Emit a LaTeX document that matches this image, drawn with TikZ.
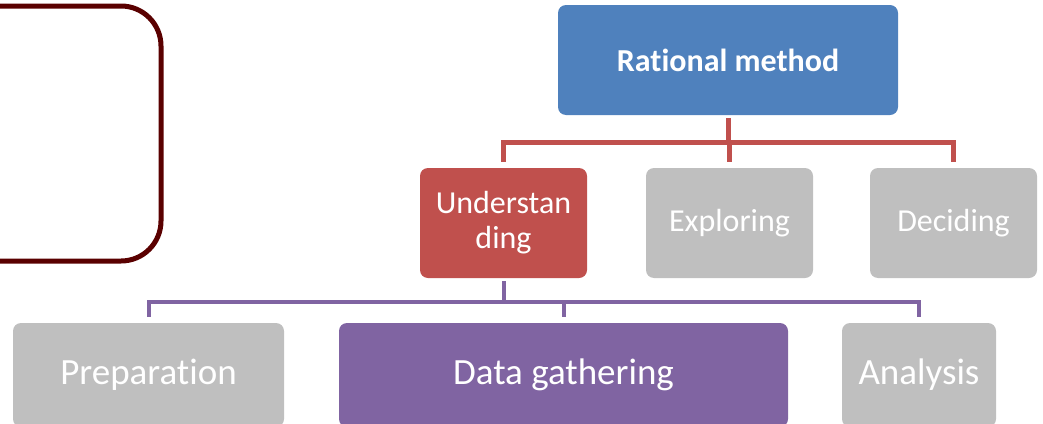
\documentclass[tikz,border=0pt]{standalone}
\usepackage{fontspec}
\setmainfont{Carlito}[Ligatures=NoCommon]
\usetikzlibrary{arrows}
\definecolor{blu}{RGB}{79,129,189}
\definecolor{rd}{RGB}{192,80,77}
\definecolor{prp}{RGB}{128,100,162}
\definecolor{gry}{RGB}{191,191,191}
\definecolor{maroon}{RGB}{90,0,0}
\begin{document}
\begin{tikzpicture}[x=1pt,y=-1pt]
\tikzstyle{every node}=[rectangle, rounded corners=8pt, inner sep=0pt, text=white, align=center]
\tikzstyle{lvlone}=[minimum width=167pt, minimum height=110pt, font=\fontsize{32}{35}\selectfont]
\tikzstyle{lvltwo}=[minimum height=104pt, font=\fontsize{37}{40}\selectfont]
\tikzstyle{redline}=[line width=5pt, draw=rd]
\tikzstyle{prpline}=[line width=4pt, draw=prp]
\useasboundingbox (0,0) rectangle (1043,423);
\clip (0,0) rectangle (1043,423);
\draw[line width=5pt, draw=maroon, rounded corners=40pt] (-60,6) rectangle (161,261);
\draw (728,60) node (rat) [fill=blu, minimum width=340pt, minimum height=110pt, font=\bfseries\fontsize{32}{35}\selectfont] {Rational method};
\draw (503.5,223) node (und) [lvlone, fill=rd] {Understan\\ding};
\draw (729.5,223) node (exp) [lvlone, fill=gry] {Exploring};
\draw (953.5,223) node (dec) [lvlone, fill=gry] {Deciding};
\draw (148.5,375) node (prep) [lvltwo, fill=gry, minimum width=271pt] {Preparation};
\draw (563.5,375) node (data) [lvltwo, fill=prp, minimum width=449pt] {Data gathering};
\draw (919,375) node (ana) [lvltwo, fill=gry, minimum width=154pt] {Analysis};
\coordinate (j1) at (728,142);
\coordinate (j2) at (503.5,302);
\draw[redline, shorten <=3pt] (rat) -- (j1);
\draw[redline, shorten >=6pt] (j1) -| (und);
\draw[redline, shorten >=6pt] (j1) -| (exp);
\draw[redline, shorten >=6pt] (j1) -| (dec);
\draw[prpline, shorten <=3pt] (und) -- (j2);
\draw[prpline, shorten >=6pt] (j2) -| (prep);
\draw[prpline, shorten >=6pt] (j2) -| (data);
\draw[prpline, shorten >=6pt] (j2) -| (ana);
\end{tikzpicture}
\end{document}
